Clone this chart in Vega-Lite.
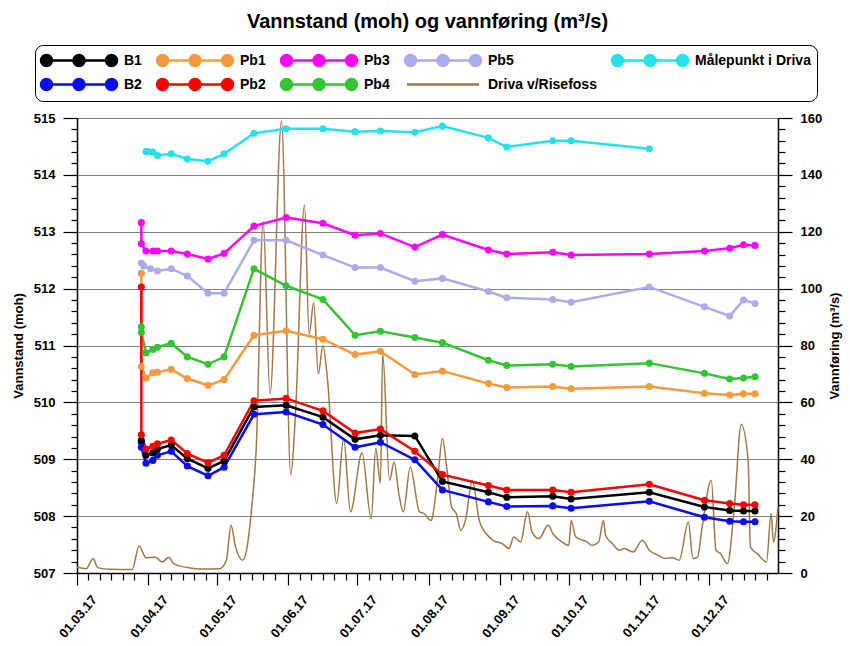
{
  "$schema": "https://vega.github.io/schema/vega-lite/v6.json",
  "width": 701,
  "height": 455,
  "autosize": {"type": "none"},
  "padding": {"left": 77, "top": 118, "right": 72, "bottom": 73},
  "background": "white",
  "title": {"text": "Vannstand (moh) og vannføring (m³/s)", "fontSize": 20, "font": "Liberation Sans", "fontWeight": "bold", "color": "black", "anchor": "middle", "frame": "group", "offset": 13},
  "config": {"view": {"stroke": null}},
  "datasets": {
    "levels": [
      {"s": "Målepunkt i Driva", "d": "2017-03-31", "v": 514.41},
      {"s": "Målepunkt i Driva", "d": "2017-04-01", "v": 514.41},
      {"s": "Målepunkt i Driva", "d": "2017-04-03", "v": 514.40},
      {"s": "Målepunkt i Driva", "d": "2017-04-05", "v": 514.34},
      {"s": "Målepunkt i Driva", "d": "2017-04-11", "v": 514.37},
      {"s": "Målepunkt i Driva", "d": "2017-04-18", "v": 514.28},
      {"s": "Målepunkt i Driva", "d": "2017-04-27", "v": 514.24},
      {"s": "Målepunkt i Driva", "d": "2017-05-04", "v": 514.37},
      {"s": "Målepunkt i Driva", "d": "2017-05-17", "v": 514.73},
      {"s": "Målepunkt i Driva", "d": "2017-05-31", "v": 514.81},
      {"s": "Målepunkt i Driva", "d": "2017-06-16", "v": 514.81},
      {"s": "Målepunkt i Driva", "d": "2017-06-30", "v": 514.76},
      {"s": "Målepunkt i Driva", "d": "2017-07-11", "v": 514.77},
      {"s": "Målepunkt i Driva", "d": "2017-07-26", "v": 514.75},
      {"s": "Målepunkt i Driva", "d": "2017-08-07", "v": 514.86},
      {"s": "Målepunkt i Driva", "d": "2017-08-27", "v": 514.65},
      {"s": "Målepunkt i Driva", "d": "2017-09-04", "v": 514.49},
      {"s": "Målepunkt i Driva", "d": "2017-09-24", "v": 514.60},
      {"s": "Målepunkt i Driva", "d": "2017-10-02", "v": 514.60},
      {"s": "Målepunkt i Driva", "d": "2017-11-05", "v": 514.46},

      {"s": "Pb3", "d": "2017-03-29", "v": 513.16},
      {"s": "Pb3", "d": "2017-03-29", "v": 512.79},
      {"s": "Pb3", "d": "2017-03-31", "v": 512.66},
      {"s": "Pb3", "d": "2017-04-03", "v": 512.66},
      {"s": "Pb3", "d": "2017-04-05", "v": 512.66},
      {"s": "Pb3", "d": "2017-04-11", "v": 512.66},
      {"s": "Pb3", "d": "2017-04-18", "v": 512.61},
      {"s": "Pb3", "d": "2017-04-27", "v": 512.52},
      {"s": "Pb3", "d": "2017-05-04", "v": 512.62},
      {"s": "Pb3", "d": "2017-05-17", "v": 513.10},
      {"s": "Pb3", "d": "2017-05-31", "v": 513.25},
      {"s": "Pb3", "d": "2017-06-16", "v": 513.15},
      {"s": "Pb3", "d": "2017-06-30", "v": 512.94},
      {"s": "Pb3", "d": "2017-07-11", "v": 512.97},
      {"s": "Pb3", "d": "2017-07-26", "v": 512.73},
      {"s": "Pb3", "d": "2017-08-07", "v": 512.95},
      {"s": "Pb3", "d": "2017-08-27", "v": 512.68},
      {"s": "Pb3", "d": "2017-09-04", "v": 512.61},
      {"s": "Pb3", "d": "2017-09-24", "v": 512.64},
      {"s": "Pb3", "d": "2017-10-02", "v": 512.59},
      {"s": "Pb3", "d": "2017-11-05", "v": 512.61},
      {"s": "Pb3", "d": "2017-11-29", "v": 512.66},
      {"s": "Pb3", "d": "2017-12-10", "v": 512.71},
      {"s": "Pb3", "d": "2017-12-16", "v": 512.77},
      {"s": "Pb3", "d": "2017-12-21", "v": 512.76},

      {"s": "Pb5", "d": "2017-03-29", "v": 512.45},
      {"s": "Pb5", "d": "2017-03-30", "v": 512.40},
      {"s": "Pb5", "d": "2017-04-02", "v": 512.35},
      {"s": "Pb5", "d": "2017-04-05", "v": 512.31},
      {"s": "Pb5", "d": "2017-04-11", "v": 512.35},
      {"s": "Pb5", "d": "2017-04-18", "v": 512.22},
      {"s": "Pb5", "d": "2017-04-27", "v": 511.92},
      {"s": "Pb5", "d": "2017-05-04", "v": 511.92},
      {"s": "Pb5", "d": "2017-05-17", "v": 512.85},
      {"s": "Pb5", "d": "2017-05-31", "v": 512.85},
      {"s": "Pb5", "d": "2017-06-16", "v": 512.59},
      {"s": "Pb5", "d": "2017-06-30", "v": 512.37},
      {"s": "Pb5", "d": "2017-07-11", "v": 512.37},
      {"s": "Pb5", "d": "2017-07-26", "v": 512.13},
      {"s": "Pb5", "d": "2017-08-07", "v": 512.18},
      {"s": "Pb5", "d": "2017-08-27", "v": 511.95},
      {"s": "Pb5", "d": "2017-09-04", "v": 511.84},
      {"s": "Pb5", "d": "2017-09-24", "v": 511.81},
      {"s": "Pb5", "d": "2017-10-02", "v": 511.76},
      {"s": "Pb5", "d": "2017-11-05", "v": 512.03},
      {"s": "Pb5", "d": "2017-11-29", "v": 511.68},
      {"s": "Pb5", "d": "2017-12-10", "v": 511.52},
      {"s": "Pb5", "d": "2017-12-16", "v": 511.80},
      {"s": "Pb5", "d": "2017-12-21", "v": 511.74},

      {"s": "Pb4", "d": "2017-03-29", "v": 511.33},
      {"s": "Pb4", "d": "2017-03-29", "v": 511.23},
      {"s": "Pb4", "d": "2017-03-31", "v": 510.87},
      {"s": "Pb4", "d": "2017-04-03", "v": 510.93},
      {"s": "Pb4", "d": "2017-04-05", "v": 510.97},
      {"s": "Pb4", "d": "2017-04-11", "v": 511.04},
      {"s": "Pb4", "d": "2017-04-18", "v": 510.80},
      {"s": "Pb4", "d": "2017-04-27", "v": 510.67},
      {"s": "Pb4", "d": "2017-05-04", "v": 510.80},
      {"s": "Pb4", "d": "2017-05-17", "v": 512.35},
      {"s": "Pb4", "d": "2017-05-31", "v": 512.05},
      {"s": "Pb4", "d": "2017-06-16", "v": 511.81},
      {"s": "Pb4", "d": "2017-06-30", "v": 511.18},
      {"s": "Pb4", "d": "2017-07-11", "v": 511.25},
      {"s": "Pb4", "d": "2017-07-26", "v": 511.14},
      {"s": "Pb4", "d": "2017-08-07", "v": 511.05},
      {"s": "Pb4", "d": "2017-08-27", "v": 510.74},
      {"s": "Pb4", "d": "2017-09-04", "v": 510.65},
      {"s": "Pb4", "d": "2017-09-24", "v": 510.67},
      {"s": "Pb4", "d": "2017-10-02", "v": 510.63},
      {"s": "Pb4", "d": "2017-11-05", "v": 510.69},
      {"s": "Pb4", "d": "2017-11-29", "v": 510.51},
      {"s": "Pb4", "d": "2017-12-10", "v": 510.41},
      {"s": "Pb4", "d": "2017-12-16", "v": 510.43},
      {"s": "Pb4", "d": "2017-12-21", "v": 510.45},

      {"s": "Pb1", "d": "2017-03-29", "v": 512.27},
      {"s": "Pb1", "d": "2017-03-29", "v": 510.63},
      {"s": "Pb1", "d": "2017-03-31", "v": 510.43},
      {"s": "Pb1", "d": "2017-04-03", "v": 510.52},
      {"s": "Pb1", "d": "2017-04-05", "v": 510.53},
      {"s": "Pb1", "d": "2017-04-11", "v": 510.58},
      {"s": "Pb1", "d": "2017-04-18", "v": 510.42},
      {"s": "Pb1", "d": "2017-04-27", "v": 510.30},
      {"s": "Pb1", "d": "2017-05-04", "v": 510.40},
      {"s": "Pb1", "d": "2017-05-17", "v": 511.18},
      {"s": "Pb1", "d": "2017-05-31", "v": 511.26},
      {"s": "Pb1", "d": "2017-06-16", "v": 511.11},
      {"s": "Pb1", "d": "2017-06-30", "v": 510.84},
      {"s": "Pb1", "d": "2017-07-11", "v": 510.90},
      {"s": "Pb1", "d": "2017-07-26", "v": 510.49},
      {"s": "Pb1", "d": "2017-08-07", "v": 510.55},
      {"s": "Pb1", "d": "2017-08-27", "v": 510.33},
      {"s": "Pb1", "d": "2017-09-04", "v": 510.26},
      {"s": "Pb1", "d": "2017-09-24", "v": 510.28},
      {"s": "Pb1", "d": "2017-10-02", "v": 510.24},
      {"s": "Pb1", "d": "2017-11-05", "v": 510.28},
      {"s": "Pb1", "d": "2017-11-29", "v": 510.16},
      {"s": "Pb1", "d": "2017-12-10", "v": 510.13},
      {"s": "Pb1", "d": "2017-12-16", "v": 510.15},
      {"s": "Pb1", "d": "2017-12-21", "v": 510.15},

      {"s": "B2", "d": "2017-03-29", "v": 509.30},
      {"s": "B2", "d": "2017-03-29", "v": 509.21},
      {"s": "B2", "d": "2017-03-31", "v": 508.93},
      {"s": "B2", "d": "2017-04-03", "v": 508.98},
      {"s": "B2", "d": "2017-04-05", "v": 509.07},
      {"s": "B2", "d": "2017-04-11", "v": 509.14},
      {"s": "B2", "d": "2017-04-18", "v": 508.88},
      {"s": "B2", "d": "2017-04-27", "v": 508.71},
      {"s": "B2", "d": "2017-05-04", "v": 508.86},
      {"s": "B2", "d": "2017-05-17", "v": 509.79},
      {"s": "B2", "d": "2017-05-31", "v": 509.83},
      {"s": "B2", "d": "2017-06-16", "v": 509.61},
      {"s": "B2", "d": "2017-06-30", "v": 509.21},
      {"s": "B2", "d": "2017-07-11", "v": 509.30},
      {"s": "B2", "d": "2017-07-26", "v": 508.99},
      {"s": "B2", "d": "2017-08-07", "v": 508.46},
      {"s": "B2", "d": "2017-08-27", "v": 508.25},
      {"s": "B2", "d": "2017-09-04", "v": 508.17},
      {"s": "B2", "d": "2017-09-24", "v": 508.18},
      {"s": "B2", "d": "2017-10-02", "v": 508.14},
      {"s": "B2", "d": "2017-11-05", "v": 508.26},
      {"s": "B2", "d": "2017-11-29", "v": 507.98},
      {"s": "B2", "d": "2017-12-10", "v": 507.91},
      {"s": "B2", "d": "2017-12-16", "v": 507.90},
      {"s": "B2", "d": "2017-12-21", "v": 507.90},

      {"s": "B1", "d": "2017-03-29", "v": 509.33},
      {"s": "B1", "d": "2017-03-31", "v": 509.07},
      {"s": "B1", "d": "2017-04-03", "v": 509.11},
      {"s": "B1", "d": "2017-04-05", "v": 509.18},
      {"s": "B1", "d": "2017-04-11", "v": 509.25},
      {"s": "B1", "d": "2017-04-18", "v": 509.01},
      {"s": "B1", "d": "2017-04-27", "v": 508.84},
      {"s": "B1", "d": "2017-05-04", "v": 508.97},
      {"s": "B1", "d": "2017-05-17", "v": 509.92},
      {"s": "B1", "d": "2017-05-31", "v": 509.95},
      {"s": "B1", "d": "2017-06-16", "v": 509.74},
      {"s": "B1", "d": "2017-06-30", "v": 509.35},
      {"s": "B1", "d": "2017-07-11", "v": 509.42},
      {"s": "B1", "d": "2017-07-26", "v": 509.41},
      {"s": "B1", "d": "2017-08-07", "v": 508.61},
      {"s": "B1", "d": "2017-08-27", "v": 508.42},
      {"s": "B1", "d": "2017-09-04", "v": 508.33},
      {"s": "B1", "d": "2017-09-24", "v": 508.35},
      {"s": "B1", "d": "2017-10-02", "v": 508.30},
      {"s": "B1", "d": "2017-11-05", "v": 508.42},
      {"s": "B1", "d": "2017-11-29", "v": 508.16},
      {"s": "B1", "d": "2017-12-10", "v": 508.10},
      {"s": "B1", "d": "2017-12-16", "v": 508.09},
      {"s": "B1", "d": "2017-12-21", "v": 508.09},

      {"s": "Pb2", "d": "2017-03-29", "v": 512.03},
      {"s": "Pb2", "d": "2017-03-29", "v": 509.43},
      {"s": "Pb2", "d": "2017-03-31", "v": 509.18},
      {"s": "Pb2", "d": "2017-04-03", "v": 509.23},
      {"s": "Pb2", "d": "2017-04-05", "v": 509.27},
      {"s": "Pb2", "d": "2017-04-11", "v": 509.34},
      {"s": "Pb2", "d": "2017-04-18", "v": 509.10},
      {"s": "Pb2", "d": "2017-04-27", "v": 508.94},
      {"s": "Pb2", "d": "2017-05-04", "v": 509.07},
      {"s": "Pb2", "d": "2017-05-17", "v": 510.03},
      {"s": "Pb2", "d": "2017-05-31", "v": 510.07},
      {"s": "Pb2", "d": "2017-06-16", "v": 509.85},
      {"s": "Pb2", "d": "2017-06-30", "v": 509.46},
      {"s": "Pb2", "d": "2017-07-11", "v": 509.53},
      {"s": "Pb2", "d": "2017-07-26", "v": 509.14},
      {"s": "Pb2", "d": "2017-08-07", "v": 508.73},
      {"s": "Pb2", "d": "2017-08-27", "v": 508.54},
      {"s": "Pb2", "d": "2017-09-04", "v": 508.46},
      {"s": "Pb2", "d": "2017-09-24", "v": 508.46},
      {"s": "Pb2", "d": "2017-10-02", "v": 508.42},
      {"s": "Pb2", "d": "2017-11-05", "v": 508.56},
      {"s": "Pb2", "d": "2017-11-29", "v": 508.28},
      {"s": "Pb2", "d": "2017-12-10", "v": 508.22},
      {"s": "Pb2", "d": "2017-12-16", "v": 508.20},
      {"s": "Pb2", "d": "2017-12-21", "v": 508.20}
    ],
    "flow": [
      {"d": "2017-03-01", "q": 2.1}, {"d": "2017-03-05", "q": 1.5}, {"d": "2017-03-08", "q": 5.1},
      {"d": "2017-03-10", "q": 1.9}, {"d": "2017-03-15", "q": 1.3}, {"d": "2017-03-25", "q": 1.2},
      {"d": "2017-03-28", "q": 9.5}, {"d": "2017-03-31", "q": 5.4}, {"d": "2017-04-04", "q": 5.5},
      {"d": "2017-04-07", "q": 3.9}, {"d": "2017-04-10", "q": 5.5}, {"d": "2017-04-12", "q": 3.3},
      {"d": "2017-04-18", "q": 1.9}, {"d": "2017-04-23", "q": 1.4}, {"d": "2017-05-02", "q": 1.5},
      {"d": "2017-05-05", "q": 4.5}, {"d": "2017-05-07", "q": 16.8}, {"d": "2017-05-09", "q": 9.1},
      {"d": "2017-05-12", "q": 4.5}, {"d": "2017-05-14", "q": 9.1}, {"d": "2017-05-16", "q": 23},
      {"d": "2017-05-18", "q": 44}, {"d": "2017-05-21", "q": 123.5}, {"d": "2017-05-24", "q": 63},
      {"d": "2017-05-29", "q": 159}, {"d": "2017-06-02", "q": 34.4}, {"d": "2017-06-04", "q": 55},
      {"d": "2017-06-08", "q": 129.4}, {"d": "2017-06-10", "q": 84}, {"d": "2017-06-12", "q": 95},
      {"d": "2017-06-14", "q": 70}, {"d": "2017-06-16", "q": 80}, {"d": "2017-06-18", "q": 68},
      {"d": "2017-06-22", "q": 24.4}, {"d": "2017-06-25", "q": 47.3}, {"d": "2017-06-28", "q": 21.5},
      {"d": "2017-07-03", "q": 42.2}, {"d": "2017-07-07", "q": 19.1}, {"d": "2017-07-09", "q": 43.8},
      {"d": "2017-07-11", "q": 31.5}, {"d": "2017-07-12", "q": 77}, {"d": "2017-07-15", "q": 32.6},
      {"d": "2017-07-17", "q": 39}, {"d": "2017-07-19", "q": 28}, {"d": "2017-07-21", "q": 21.5},
      {"d": "2017-07-24", "q": 37.3}, {"d": "2017-07-28", "q": 21.5}, {"d": "2017-07-30", "q": 20.9},
      {"d": "2017-08-02", "q": 18.5}, {"d": "2017-08-05", "q": 33.8}, {"d": "2017-08-07", "q": 47.3},
      {"d": "2017-08-09", "q": 36.1}, {"d": "2017-08-11", "q": 23.2}, {"d": "2017-08-13", "q": 20.9},
      {"d": "2017-08-15", "q": 15}, {"d": "2017-08-17", "q": 18.5}, {"d": "2017-08-20", "q": 32.6},
      {"d": "2017-08-23", "q": 18.5}, {"d": "2017-08-26", "q": 13.9}, {"d": "2017-08-29", "q": 11.5},
      {"d": "2017-09-02", "q": 10.3}, {"d": "2017-09-05", "q": 8.6}, {"d": "2017-09-07", "q": 12.7},
      {"d": "2017-09-10", "q": 10.9}, {"d": "2017-09-13", "q": 21.5}, {"d": "2017-09-15", "q": 14.4},
      {"d": "2017-09-18", "q": 12.1}, {"d": "2017-09-22", "q": 16.8}, {"d": "2017-09-24", "q": 13.9},
      {"d": "2017-09-28", "q": 10.9}, {"d": "2017-10-01", "q": 9.7}, {"d": "2017-10-02", "q": 18.5},
      {"d": "2017-10-04", "q": 12.7}, {"d": "2017-10-09", "q": 10.9}, {"d": "2017-10-11", "q": 9.7},
      {"d": "2017-10-14", "q": 10.9}, {"d": "2017-10-16", "q": 18.5}, {"d": "2017-10-17", "q": 13.3},
      {"d": "2017-10-20", "q": 10.3}, {"d": "2017-10-23", "q": 8}, {"d": "2017-10-25", "q": 8.6},
      {"d": "2017-10-29", "q": 7.4}, {"d": "2017-11-02", "q": 11.5}, {"d": "2017-11-05", "q": 8},
      {"d": "2017-11-09", "q": 6.2}, {"d": "2017-11-12", "q": 5.1}, {"d": "2017-11-15", "q": 5.4},
      {"d": "2017-11-18", "q": 4.5}, {"d": "2017-11-22", "q": 17.9}, {"d": "2017-11-24", "q": 5.1},
      {"d": "2017-11-26", "q": 5.6}, {"d": "2017-11-28", "q": 16.2}, {"d": "2017-12-02", "q": 32.6},
      {"d": "2017-12-04", "q": 8}, {"d": "2017-12-06", "q": 6.8}, {"d": "2017-12-09", "q": 3.3},
      {"d": "2017-12-12", "q": 23.2}, {"d": "2017-12-15", "q": 52.3}, {"d": "2017-12-18", "q": 39.7},
      {"d": "2017-12-19", "q": 9.1}, {"d": "2017-12-22", "q": 6.8}, {"d": "2017-12-26", "q": 3.9},
      {"d": "2017-12-28", "q": 20.9}, {"d": "2017-12-29", "q": 10.9}, {"d": "2017-12-31", "q": 23.2}
    ]
  },
  "encoding": {
    "x": {
      "field": "d", "type": "temporal",
      "scale": {"type": "utc", "domain": [{"year": 2017, "month": 3, "date": 1, "utc": true}, {"year": 2017, "month": 12, "date": 31, "utc": true}]},
      "axis": {
        "title": null, "grid": false,
        "values": [
          {"year": 2017, "month": 3, "date": 1, "utc": true}, {"year": 2017, "month": 3, "date": 6, "utc": true}, {"year": 2017, "month": 3, "date": 11, "utc": true}, {"year": 2017, "month": 3, "date": 16, "utc": true}, {"year": 2017, "month": 3, "date": 21, "utc": true}, {"year": 2017, "month": 3, "date": 26, "utc": true},
          {"year": 2017, "month": 4, "date": 1, "utc": true}, {"year": 2017, "month": 4, "date": 6, "utc": true}, {"year": 2017, "month": 4, "date": 11, "utc": true}, {"year": 2017, "month": 4, "date": 16, "utc": true}, {"year": 2017, "month": 4, "date": 21, "utc": true}, {"year": 2017, "month": 4, "date": 26, "utc": true},
          {"year": 2017, "month": 5, "date": 1, "utc": true}, {"year": 2017, "month": 5, "date": 6, "utc": true}, {"year": 2017, "month": 5, "date": 11, "utc": true}, {"year": 2017, "month": 5, "date": 16, "utc": true}, {"year": 2017, "month": 5, "date": 21, "utc": true}, {"year": 2017, "month": 5, "date": 26, "utc": true},
          {"year": 2017, "month": 6, "date": 1, "utc": true}, {"year": 2017, "month": 6, "date": 6, "utc": true}, {"year": 2017, "month": 6, "date": 11, "utc": true}, {"year": 2017, "month": 6, "date": 16, "utc": true}, {"year": 2017, "month": 6, "date": 21, "utc": true}, {"year": 2017, "month": 6, "date": 26, "utc": true},
          {"year": 2017, "month": 7, "date": 1, "utc": true}, {"year": 2017, "month": 7, "date": 6, "utc": true}, {"year": 2017, "month": 7, "date": 11, "utc": true}, {"year": 2017, "month": 7, "date": 16, "utc": true}, {"year": 2017, "month": 7, "date": 21, "utc": true}, {"year": 2017, "month": 7, "date": 26, "utc": true},
          {"year": 2017, "month": 8, "date": 1, "utc": true}, {"year": 2017, "month": 8, "date": 6, "utc": true}, {"year": 2017, "month": 8, "date": 11, "utc": true}, {"year": 2017, "month": 8, "date": 16, "utc": true}, {"year": 2017, "month": 8, "date": 21, "utc": true}, {"year": 2017, "month": 8, "date": 26, "utc": true},
          {"year": 2017, "month": 9, "date": 1, "utc": true}, {"year": 2017, "month": 9, "date": 6, "utc": true}, {"year": 2017, "month": 9, "date": 11, "utc": true}, {"year": 2017, "month": 9, "date": 16, "utc": true}, {"year": 2017, "month": 9, "date": 21, "utc": true}, {"year": 2017, "month": 9, "date": 26, "utc": true},
          {"year": 2017, "month": 10, "date": 1, "utc": true}, {"year": 2017, "month": 10, "date": 6, "utc": true}, {"year": 2017, "month": 10, "date": 11, "utc": true}, {"year": 2017, "month": 10, "date": 16, "utc": true}, {"year": 2017, "month": 10, "date": 21, "utc": true}, {"year": 2017, "month": 10, "date": 26, "utc": true},
          {"year": 2017, "month": 11, "date": 1, "utc": true}, {"year": 2017, "month": 11, "date": 6, "utc": true}, {"year": 2017, "month": 11, "date": 11, "utc": true}, {"year": 2017, "month": 11, "date": 16, "utc": true}, {"year": 2017, "month": 11, "date": 21, "utc": true}, {"year": 2017, "month": 11, "date": 26, "utc": true},
          {"year": 2017, "month": 12, "date": 1, "utc": true}, {"year": 2017, "month": 12, "date": 6, "utc": true}, {"year": 2017, "month": 12, "date": 11, "utc": true}, {"year": 2017, "month": 12, "date": 16, "utc": true}, {"year": 2017, "month": 12, "date": 21, "utc": true}, {"year": 2017, "month": 12, "date": 26, "utc": true}
        ],
        "labelExpr": "utcdate(datum.value) == 1 ? utcFormat(datum.value, '%d.%m.%y') : ''",
        "labelAngle": -50, "labelAlign": "right", "labelBaseline": "middle",
        "labelFont": "Liberation Sans", "labelFontWeight": "bold", "labelFontSize": 13, "labelColor": "black",
        "labelOffset": 17, "labelPadding": 12, "labelOverlap": false, "labelFlush": false, "labelBound": false,
        "tickSize": {"condition": {"test": "utcdate(datum.value) == 1", "value": 12}, "value": 7},
        "tickColor": "black", "tickWidth": 1.2, "domainColor": "black", "domainWidth": 1.5
      }
    }
  },
  "layer": [
    {
      "data": {"name": "flow"},
      "mark": {"type": "line", "strokeWidth": 1.5, "interpolate": "monotone"},
      "encoding": {
        "y": {
          "field": "q", "type": "quantitative",
          "scale": {"domain": [0, 160], "nice": false, "zero": false},
          "axis": {
            "orient": "right", "title": "Vannføring (m³/s)", "titleAngle": 270,
            "titleFont": "Liberation Sans", "titleFontWeight": "bold", "titleFontSize": 13, "titleColor": "black", "titlePadding": 20,
            "values": [0,4,8,12,16,20,24,28,32,36,40,44,48,52,56,60,64,68,72,76,80,84,88,92,96,100,104,108,112,116,120,124,128,132,136,140,144,148,152,156,160],
            "labelExpr": "datum.value % 20 == 0 ? format(datum.value, 'd') : ''",
            "labelFont": "Liberation Sans", "labelFontWeight": "bold", "labelFontSize": 13, "labelColor": "black",
            "labelPadding": 8, "labelOverlap": false, "labelFlush": false,
            "tickSize": {"condition": {"test": "datum.value % 20 == 0", "value": 14}, "value": 7},
            "tickColor": "black", "tickWidth": 1.2, "domainColor": "black", "domainWidth": 1.5, "grid": false
          }
        },
        "color": {"datum": "Driva v/Risefoss", "type": "nominal"}
      }
    },
    {
      "data": {"name": "levels"},
      "mark": {"type": "line", "strokeWidth": 2.5, "point": {"filled": true, "size": 50}},
      "encoding": {
        "y": {
          "field": "v", "type": "quantitative",
          "scale": {"domain": [507, 515], "nice": false, "zero": false},
          "axis": {
            "orient": "left", "title": "Vannstand (moh)",
            "titleFont": "Liberation Sans", "titleFontWeight": "bold", "titleFontSize": 13, "titleColor": "black", "titlePadding": 8,
            "values": [507,507.2,507.4,507.6,507.8,508,508.2,508.4,508.6,508.8,509,509.2,509.4,509.6,509.8,510,510.2,510.4,510.6,510.8,511,511.2,511.4,511.6,511.8,512,512.2,512.4,512.6,512.8,513,513.2,513.4,513.6,513.8,514,514.2,514.4,514.6,514.8,515],
            "labelExpr": "abs(datum.value - round(datum.value)) < 0.01 ? format(datum.value, 'd') : ''",
            "labelFont": "Liberation Sans", "labelFontWeight": "bold", "labelFontSize": 13, "labelColor": "black",
            "labelPadding": 8, "labelOverlap": false, "labelFlush": false,
            "tickSize": {"condition": {"test": "abs(datum.value - round(datum.value)) < 0.01", "value": 14}, "value": 6},
            "tickColor": "black", "tickWidth": 1.2, "domainColor": "black", "domainWidth": 1.5,
            "grid": true, "gridColor": "#808080", "gridWidth": 1,
            "gridOpacity": {"condition": {"test": "abs(datum.value - round(datum.value)) < 0.01", "value": 1}, "value": 0}
          }
        },
        "color": {
          "field": "s", "type": "nominal",
          "scale": {
            "domain": ["B1", "Pb1", "Pb3", "Pb5", "Målepunkt i Driva", "B2", "Pb2", "Pb4", "Driva v/Risefoss"],
            "range": ["#000000", "#f79a3e", "#ff00ff", "#acacec", "#22e3ea", "#0a0aff", "#ff0000", "#33c433", "#a27848"]
          },
          "legend": {
            "orient": "none", "legendX": -42, "legendY": -73, "direction": "horizontal", "columns": 5, "title": null,
            "symbolType": {"expr": "datum.value == 'Driva v/Risefoss' ? 'M-0.9375,0L8.0625,0' : 'M-0.5,0L7.625,0M-1.1875,0A0.6875,0.6875 0 1,0 0.1875,0A0.6875,0.6875 0 1,0 -1.1875,0ZM2.875,0A0.6875,0.6875 0 1,0 4.25,0A0.6875,0.6875 0 1,0 2.875,0ZM6.9375,0A0.6875,0.6875 0 1,0 8.3125,0A0.6875,0.6875 0 1,0 6.9375,0Z'"},
            "symbolSize": 256, "symbolStrokeWidth": 2.5, "symbolOffset": 0, "labelOffset": 64,
            "labelFont": "Liberation Sans", "labelFontWeight": "bold", "labelFontSize": 14, "labelColor": "black", "labelLimit": 300,
            "columnPadding": 10, "rowPadding": 3, "padding": 6,
            "strokeColor": "black", "cornerRadius": 8, "fillColor": "white"
          }
        }
      }
    }
  ],
  "resolve": {"scale": {"y": "independent"}}
}
